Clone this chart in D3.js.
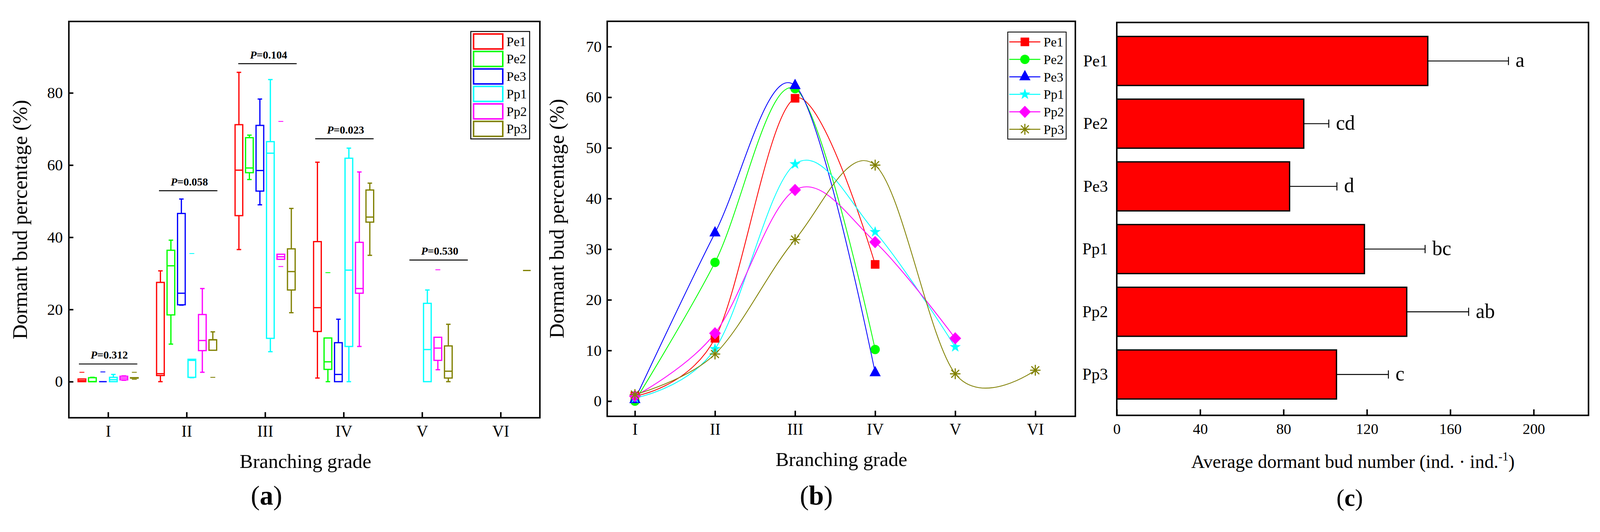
<!DOCTYPE html>
<html><head><meta charset="utf-8">
<script src="https://cdn.jsdelivr.net/npm/d3@7"></script>
<style>
html,body{margin:0;padding:0;width:100%;height:100%;overflow:hidden;background:#fff}
svg{display:block;width:100vw;height:100vh}
text{font-family:"Liberation Serif","Times New Roman",serif;fill:#000}
</style>
</head><body>
<svg id="fig" viewBox="0 0 4274 1362" preserveAspectRatio="xMidYMid meet"></svg>
<script>
// ---------------- DATA ----------------
const series = ["Pe1","Pe2","Pe3","Pp1","Pp2","Pp3"];
const colors = ["#FF0000","#00FF00","#0000FF","#00FFFF","#FF00FF","#808000"];
const grades = ["I","II","III","IV","V","VI"];

// Panel (a): box statistics [min, Q1, median, Q3, max] per branching grade (null = no data)
const boxPe1 = [[0,0,0.3,0.75,0.75],[0,1.7,2.2,27.5,30.7],[36.6,46.0,58.6,71.2,85.7],[1.0,13.9,20.5,38.8,60.8],null,null];
const boxPe2 = [[0,0,0,1.1,1.2],[10.4,18.5,32.1,36.4,39.2],[56.0,57.9,59.2,67.6,68.3],[0,3.4,5.5,12.1,12.1],null,null];
const boxPe3 = [[0,0,0,0,0],[21.2,21.3,24.5,46.6,50.6],[49.0,52.8,58.5,71.0,78.3],[0,0,2.0,10.8,17.3],null,null];
const boxPp1 = [[0,0,0.55,1.2,2.0],[1.1,1.2,5.9,6.2,6.2],[8.3,12.0,63.3,66.5,83.7],[0,9.75,30.9,61.9,64.7],[0,0,8.9,21.7,25.4],null];
const boxPp2 = [[0.4,0.5,1.0,1.5,1.6],[2.6,8.6,11.4,18.6,25.8],[33.9,33.9,34.6,35.3,35.3],[9.75,24.5,25.8,38.6,58.1],[3.3,5.9,9.3,12.3,12.3],null];
const boxPp3 = [[1.0,1.0,1.0,1.1,1.1],[8.7,8.7,11.6,11.6,13.8],[19.1,25.4,30.5,36.8,48.0],[35.0,44.2,45.6,53.1,55.0],[0,1.0,2.9,9.9,15.9],[30.8,30.8,30.8,30.8,30.8]];
// outliers (series index, grade number, value)
const outSeries = [0,2,5,5,3,5,4,4,1,4];
const outGrade  = [1,1,1,1,2,2,3,3,4,5];
const outValue  = [2.6,2.7,2.6,0.64,35.5,1.2,72.1,31.9,30.2,31.0];
// P-value annotations
const pText  = ["0.312","0.058","0.104","0.023","0.530"];
const pGrade = [1.0,2.02,3.03,4.01,5.21];
const pLevel = [4.9,52.9,88.1,67.3,33.7];

// Panel (b): dormant bud percentage per grade
const pctPe1 = [1.0,12.4,59.8,27.0];
const pctPe2 = [0.0,27.4,61.7,10.2];
const pctPe3 = [0.3,33.2,62.3,5.6];
const pctPp1 = [0.6,10.3,46.8,33.4,10.7];
const pctPp2 = [1.0,13.4,41.7,31.4,12.4];
const pctPp3 = [1.3,9.3,31.9,46.6,5.4,6.1];

// Panel (c): average dormant bud number
const budMean = [149.2,89.7,82.9,118.8,139.1,105.4];
const budErr  = [38.7,12.0,22.7,29.1,29.7,24.9];
const budLetters = ["a","cd","d","bc","ab","c"];
const budTicks = [0,40,80,120,160,200];

// ---------------- DRAW ----------------
const svg = d3.select("#fig");
svg.append("rect").attr("width",4274).attr("height",1362).attr("fill","#fff");

function frame(b){
  svg.append("rect").attr("x",b.left).attr("y",b.top)
    .attr("width",b.right-b.left).attr("height",b.bottom-b.top)
    .attr("fill","none").attr("stroke","#000").attr("stroke-width",4);
}
function styleAxis(g, size){
  g.select(".domain").remove();
  g.selectAll(".tick line").attr("stroke","#000").attr("stroke-width",4);
  g.selectAll(".tick text").attr("font-size",size).attr("fill","#000")
    .attr("font-family",'"Liberation Serif","Times New Roman",serif');
}
function panelLabel(x,y,letter,size){
  const t = svg.append("text").attr("x",x).attr("y",y).attr("text-anchor","middle").attr("font-size",size);
  t.append("tspan").text("(");
  t.append("tspan").attr("font-weight","bold").text(letter);
  t.append("tspan").text(")");
}

// ===== Panel (a) =====
const A = {left:183.95, right:1442.15, top:27.7, bottom:1086.4};
const xa = d3.scaleLinear().domain([0.5,6.5]).range([A.left,A.right]);
const ya = d3.scaleLinear().domain([-10,99.8]).range([A.bottom,A.top]);
const boxData = [boxPe1,boxPe2,boxPe3,boxPp1,boxPp2,boxPp3];
const slot = 0.1335, boxW = 20.5, capW = 12, sw = 3.3;
const gBoxes = svg.append("g");
boxData.forEach((arr,si)=>{
  arr.forEach((st,gi)=>{
    if(!st) return;
    const cx = xa(gi+1+(si-2.5)*slot);
    const [mn,q1,md,q3,mx] = st;
    const g = gBoxes.append("g").attr("stroke",colors[si]).attr("fill","none").attr("stroke-width",sw);
    if(mx>q3){
      g.append("line").attr("x1",cx).attr("x2",cx).attr("y1",ya(q3)).attr("y2",ya(mx));
      g.append("line").attr("x1",cx-capW/2).attr("x2",cx+capW/2).attr("y1",ya(mx)).attr("y2",ya(mx));
    }
    if(mn<q1){
      g.append("line").attr("x1",cx).attr("x2",cx).attr("y1",ya(q1)).attr("y2",ya(mn));
      g.append("line").attr("x1",cx-capW/2).attr("x2",cx+capW/2).attr("y1",ya(mn)).attr("y2",ya(mn));
    }
    g.append("rect").attr("x",cx-boxW/2).attr("y",ya(q3)).attr("width",boxW)
      .attr("height",Math.max(0,ya(q1)-ya(q3)));
    g.append("line").attr("x1",cx-boxW/2).attr("x2",cx+boxW/2).attr("y1",ya(md)).attr("y2",ya(md));
  });
});
outValue.forEach((v,i)=>{
  const cx = xa(outGrade[i]+(outSeries[i]-2.5)*slot);
  gBoxes.append("line").attr("x1",cx-6.5).attr("x2",cx+6.5).attr("y1",ya(v)).attr("y2",ya(v))
    .attr("stroke",colors[outSeries[i]]).attr("stroke-width",2.2);
});
// P annotations
pText.forEach((t,i)=>{
  const cx = xa(pGrade[i]);
  const yl = ya(pLevel[i]);
  svg.append("line").attr("x1",cx-78).attr("x2",cx+78).attr("y1",yl).attr("y2",yl)
    .attr("stroke","#000").attr("stroke-width",2.5);
  const tx = svg.append("text").attr("x",cx+3).attr("y",yl-14).attr("text-anchor","middle")
    .attr("font-size",29).attr("font-weight","bold");
  tx.append("tspan").attr("font-style","italic").text("P");
  tx.append("tspan").text("="+t);
});
// axes (a)
const axA_x = svg.append("g").attr("transform",`translate(0,${A.bottom})`)
  .call(d3.axisBottom(xa).tickValues([1,2,3,4,5,6]).tickFormat(d=>grades[d-1]).tickSizeInner(-15).tickSizeOuter(0));
styleAxis(axA_x,43);
axA_x.selectAll(".tick text").attr("dy",null).attr("y",50.4);
const axA_y = svg.append("g").attr("transform",`translate(${A.left},0)`)
  .call(d3.axisLeft(ya).tickValues([0,20,40,60,80]).tickSizeInner(-12).tickSizeOuter(0).tickPadding(16));
styleAxis(axA_y,42);
frame(A);
// legend (a)
const LA = {x0:1257.6, x1:1414.8, y0:54.5, y1:341.5};
svg.append("rect").attr("x",LA.x0).attr("y",LA.y0).attr("width",LA.x1-LA.x0).attr("height",LA.y1-LA.y0)
  .attr("fill","#fff").attr("stroke","#000").attr("stroke-width",2.5);
series.forEach((s,i)=>{
  const cy = 81.2 + i*46.7;
  svg.append("rect").attr("x",1265).attr("y",cy-20).attr("width",78).attr("height",40)
    .attr("fill","none").attr("stroke",colors[i]).attr("stroke-width",4);
  svg.append("text").attr("x",1352.9).attr("y",cy+12).attr("font-size",35).text(s);
});
svg.append("text").attr("transform","translate(72,557) rotate(-90)").attr("text-anchor","middle")
  .attr("font-size",55).text("Dormant bud percentage (%)");
svg.append("text").attr("x",816).attr("y",1220).attr("text-anchor","middle").attr("font-size",53).text("Branching grade");
panelLabel(712,1319,"a",72);

// ===== Panel (b) =====
const B = {left:1622, right:2872.5, top:27.3, bottom:1082.6};
const xb = d3.scaleLinear().domain([0.654,6.5]).range([B.left,B.right]);
const yb = d3.scaleLinear().domain([-3,75]).range([B.bottom,B.top]);
const pctData = [pctPe1,pctPe2,pctPe3,pctPp1,pctPp2,pctPp3];
const lineGen = d3.line().x((d,i)=>xb(i+1)).y(d=>yb(d)).curve(d3.curveCatmullRom.alpha(0));
pctData.forEach((arr,si)=>{
  svg.append("path").attr("d",lineGen(arr)).attr("fill","none")
    .attr("stroke",colors[si]).attr("stroke-width",2.2);
});
function symbolPath(si){
  switch(si){
    case 0: return "M-11.5,-11.5H11.5V11.5H-11.5Z";
    case 1: return d3.symbol(d3.symbolCircle, Math.PI*12.5*12.5)();
    case 2: return "M0,-18.5L15,9.2L-15,9.2Z";
    case 3: {
      let p=""; for(let k=0;k<10;k++){const r=k%2?6.2:15.5;const a=-Math.PI/2+k*Math.PI/5;
        p+=(k?"L":"M")+(r*Math.cos(a)).toFixed(2)+","+(r*Math.sin(a)).toFixed(2);} return p+"Z";}
    case 4: return "M0,-16.3L15.8,0L0,16.3L-15.8,0Z";
    case 5: return "M0,-14.5V14.5M-14,0H14M-10.5,-10.5L10.5,10.5M-10.5,10.5L10.5,-10.5";
  }
}
function drawSymbol(si,x,y){
  const p = svg.append("path").attr("d",symbolPath(si)).attr("transform",`translate(${x},${y})`);
  if(si===5) p.attr("fill","none").attr("stroke",colors[si]).attr("stroke-width",3);
  else p.attr("fill",colors[si]).attr("stroke","none");
}
pctData.forEach((arr,si)=>{
  arr.forEach((v,i)=>drawSymbol(si,xb(i+1),yb(v)));
});
const axB_x = svg.append("g").attr("transform",`translate(0,${B.bottom})`)
  .call(d3.axisBottom(xb).tickValues([1,2,3,4,5,6]).tickFormat(d=>grades[d-1]).tickSizeInner(-15).tickSizeOuter(0));
styleAxis(axB_x,43);
axB_x.selectAll(".tick text").attr("dy",null).attr("y",49.1);
const axB_y = svg.append("g").attr("transform",`translate(${B.left},0)`)
  .call(d3.axisLeft(yb).tickValues([0,10,20,30,40,50,60,70]).tickSizeInner(-12).tickSizeOuter(0).tickPadding(15));
styleAxis(axB_y,42);
frame(B);
// legend (b)
const LB = {x0:2692, x1:2848, y0:56, y1:342};
svg.append("rect").attr("x",LB.x0).attr("y",LB.y0).attr("width",LB.x1-LB.x0).attr("height",LB.y1-LB.y0)
  .attr("fill","#fff").attr("stroke","#000").attr("stroke-width",2.2);
series.forEach((s,i)=>{
  const cy = 82.3 + i*46.7;
  svg.append("line").attr("x1",2696).attr("x2",2779).attr("y1",cy).attr("y2",cy)
    .attr("stroke",colors[i]).attr("stroke-width",2.7);
  drawSymbol(i,2737.7,cy);
  svg.append("text").attr("x",2787.7).attr("y",cy+12.5).attr("font-size",35).text(s);
});
svg.append("text").attr("transform","translate(1506,554.5) rotate(-90)").attr("text-anchor","middle")
  .attr("font-size",55).text("Dormant bud percentage (%)");
svg.append("text").attr("x",2247.6).attr("y",1215).attr("text-anchor","middle").attr("font-size",53).text("Branching grade");
panelLabel(2180.5,1319,"b",72);

// ===== Panel (c) =====
const C = {left:2983.2, right:4243.3, top:30.4, bottom:1080};
const xc = d3.scaleLinear().domain([0,226.3]).range([C.left,C.right]);
const yc = d3.scaleBand().domain(series).range([C.top,C.bottom]).paddingInner(0.218).paddingOuter(0.242).align(0.461);
series.forEach((s,i)=>{
  const y0 = yc(s), h = yc.bandwidth(), cy = y0+h/2;
  svg.append("rect").attr("x",xc(0)).attr("y",y0).attr("width",xc(budMean[i])-xc(0)).attr("height",h)
    .attr("fill","#FF0000").attr("stroke","#000").attr("stroke-width",3.5);
  const xe = xc(budMean[i]+budErr[i]);
  svg.append("line").attr("x1",xc(budMean[i])).attr("x2",xe).attr("y1",cy).attr("y2",cy)
    .attr("stroke","#000").attr("stroke-width",2.5);
  svg.append("line").attr("x1",xe).attr("x2",xe).attr("y1",cy-11).attr("y2",cy+11)
    .attr("stroke","#000").attr("stroke-width",2.5);
  svg.append("text").attr("x",xe+19).attr("y",cy+16).attr("font-size",54).text(budLetters[i]);
});
const axC_x = svg.append("g").attr("transform",`translate(0,${C.bottom})`)
  .call(d3.axisBottom(xc).tickValues(budTicks).tickSizeInner(-16).tickSizeOuter(0));
styleAxis(axC_x,40);
axC_x.selectAll(".tick text").attr("dy",null).attr("y",49.5);
const axC_y = svg.append("g").attr("transform",`translate(${C.left},0)`)
  .call(d3.axisLeft(yc).tickSizeInner(0).tickSizeOuter(0).tickPadding(23.6));
styleAxis(axC_y,44);
frame(C);
const xl = svg.append("text").attr("x",3614).attr("y",1220.7).attr("text-anchor","middle").attr("font-size",50);
xl.append("tspan").text("Average dormant bud number (ind. \u00b7 ind.");
xl.append("tspan").attr("font-size",32).attr("dy",-20).text("-1");
xl.append("tspan").attr("dy",20).text(")");
panelLabel(3605.4,1322,"c",64);
</script>
</body></html>
